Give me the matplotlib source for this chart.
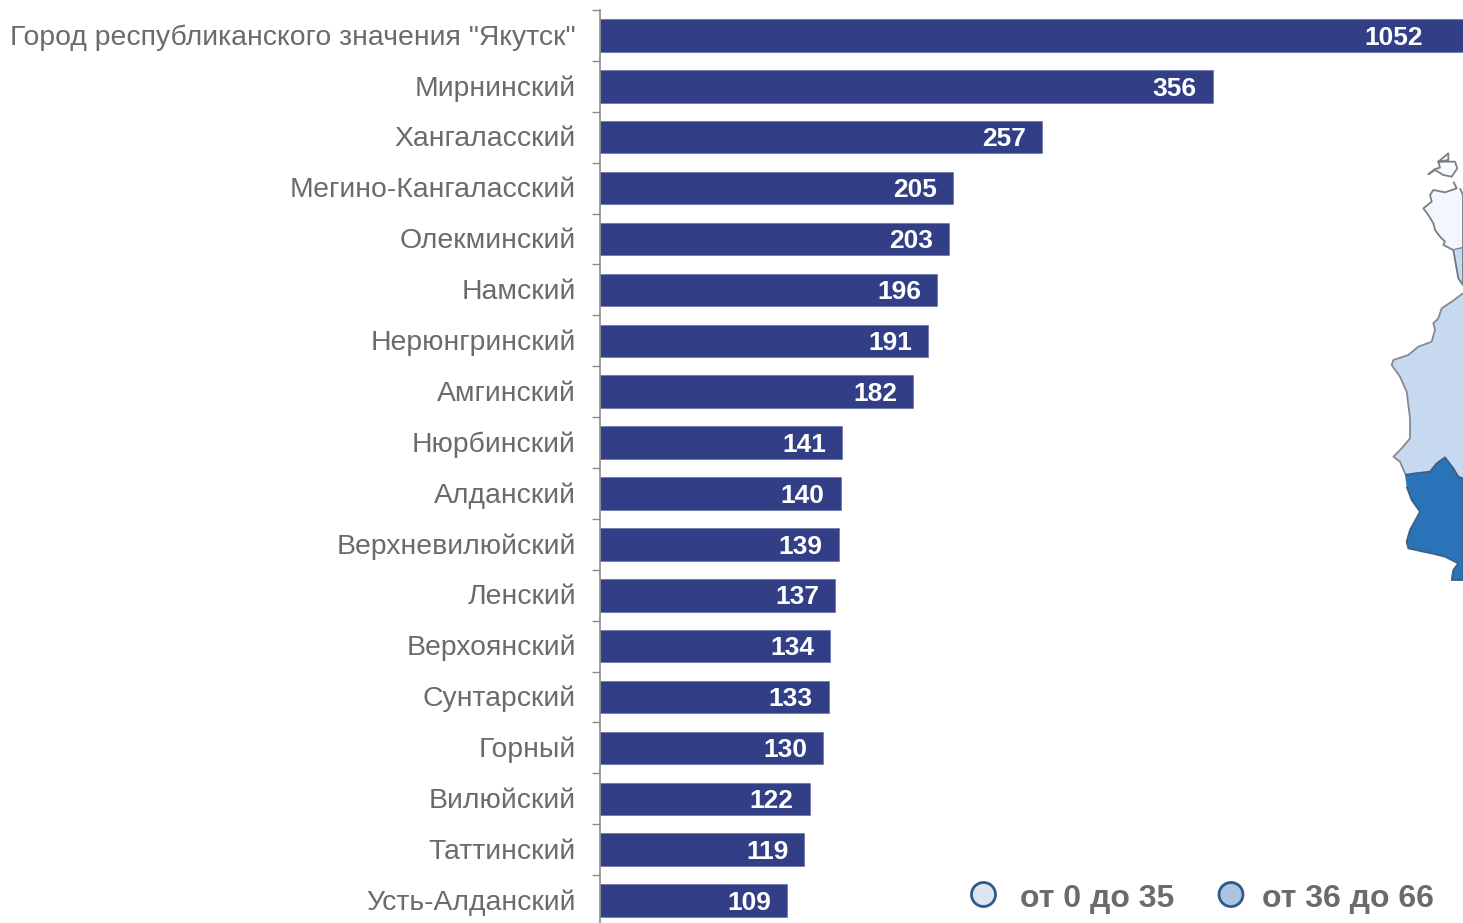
#!/usr/bin/env python3
import matplotlib
matplotlib.use('Agg')
import matplotlib.pyplot as plt
from matplotlib.patches import Circle, Polygon
from matplotlib.transforms import ScaledTranslation

plt.rcParams['font.family'] = ['Liberation Sans', 'DejaVu Sans']

W, H = 1463, 923

districts = ['Город республиканского значения "Якутск"', 'Мирнинский', 'Хангаласский',
             'Мегино-Кангаласский', 'Олекминский', 'Намский', 'Нерюнгринский', 'Амгинский',
             'Нюрбинский', 'Алданский', 'Верхневилюйский', 'Ленский', 'Верхоянский',
             'Сунтарский', 'Горный', 'Вилюйский', 'Таттинский', 'Усть-Алданский']
values = [1052, 356, 257, 205, 203, 196, 191, 182, 141, 140, 139, 137, 134, 133, 130, 122, 119, 109]

legend_labels = ['от 0 до 35', 'от 36 до 66']
legend_colors = ['#dce6f2', '#adc4e0']

# куски карты справа, координаты в пикселях кропов с масштабом 3
map_island = [(115, 25), (115, 45), (85, 50), (135, 50), (142, 70), (125, 95), (100, 90), (75, 75),
              (55, 88), (75, 72), (90, 68), (85, 50)]
map_north = [(130, 110), (140, 130), (105, 142), (70, 135), (60, 150), (65, 170), (40, 190),
             (55, 210), (70, 235), (75, 255), (90, 275), (105, 290), (100, 300), (130, 315),
             (159, 308), (159, 150), (150, 130)]
map_strip = [(130, 315), (145, 400), (159, 420), (159, 310)]
map_middle = [(234, 25), (200, 50), (170, 70), (160, 100), (145, 115), (150, 135), (140, 170),
              (100, 185), (70, 210), (25, 225), (20, 240), (45, 275), (65, 320), (75, 400),
              (75, 460), (50, 490), (25, 515), (45, 530), (60, 565), (70, 573), (165, 585), (234, 615)]
map_south = [(30, 75), (60, 70), (105, 65), (125, 40), (150, 22), (175, 55), (190, 80), (204, 85),
             (204, 390), (170, 390), (175, 360), (190, 340), (150, 320), (110, 310), (85, 305),
             (40, 295), (35, 275), (45, 240), (75, 185), (50, 150), (35, 110)]

fig = plt.figure(figsize=(W / 100, H / 100), dpi=100)

# оси: x от 599.5 px, 1.722 px на единицу; шаг категорий 50.88 px
ax = fig.add_axes([599.5 / W, 0, (W - 599.5) / W, (H - 10) / H])
xmax = (W - 599.5) / 1.722
ax.barh(range(len(values)), values, height=32.5 / 50.88, color='#323f86', edgecolor='#5a659c',
        linewidth=0.4, zorder=2)
ax.set_xlim(0, xmax)
ax.set_ylim(17.44, -0.5)
ax.xaxis.set_visible(False)
for s in ['top', 'right', 'bottom']:
    ax.spines[s].set_visible(False)
ax.spines['left'].set_color('#8c8c8c')
ax.spines['left'].set_linewidth(1.2)

ax.set_yticks(range(len(values)))
ax.set_yticklabels(districts, fontsize=20.4, color='#6b6b6b')
ax.tick_params(axis='y', which='major', length=0, pad=17)
ax.set_yticks([i - 0.5 for i in range(len(values))], minor=True)
ax.tick_params(axis='y', which='minor', length=6, width=1, color='#8c8c8c')

# подписи чуть выше центра столбца
up = ScaledTranslation(0, 1 / 100, fig.dpi_scale_trans)
for t in ax.get_yticklabels():
    t.set_transform(t.get_transform() + up)

for i, v in enumerate(values):
    # столбец Якутска обрезан краем, подпись стоит внутри видимой части
    right = -40 if v > xmax else -16
    ax.annotate(str(v), (min(v, xmax), i), xytext=(right * 0.72, -1.6), textcoords='offset points',
                ha='right', va='center', fontsize=19, fontweight='bold', color='white',
                annotation_clip=False, zorder=3)

# верхний слой в пикселях: карта и легенда
over = fig.add_axes([0, 0, 1, 1], facecolor='none')
over.set_xlim(0, W)
over.set_ylim(H, 0)
over.axis('off')


def to_px(points, x0, y0):
    return [(x0 + x / 3, y0 + y / 3) for x, y in points]


for pts, x0, y0, fc, ec, closed in [(map_island, 1410, 145, '#fafbfe', '#7b7f86', True),
                                    (map_north, 1410, 145, '#f3f6fc', '#7b7f86', False),
                                    (map_strip, 1410, 145, '#c6d9f0', '#6f7682', False),
                                    (map_middle, 1385, 285, '#c6d9f1', '#858a92', False),
                                    (map_south, 1395, 450, '#2a73b8', '#3c5f86', False)]:
    over.add_patch(Polygon(to_px(pts, x0, y0), closed=closed, facecolor=fc, edgecolor=ec,
                           linewidth=1.3, joinstyle='round'))

for cx, tx, lab, col in zip([983.5, 1231], [1020, 1262], legend_labels, legend_colors):
    over.add_patch(Circle((cx, 894.5), 12, facecolor=col, edgecolor='#2f5a8c', linewidth=2))
    over.text(tx, 899, lab, ha='left', va='center', fontsize=23, fontweight='bold', color='#6b6b6b')

fig.savefig('out.png', dpi=100)
plt.close()
